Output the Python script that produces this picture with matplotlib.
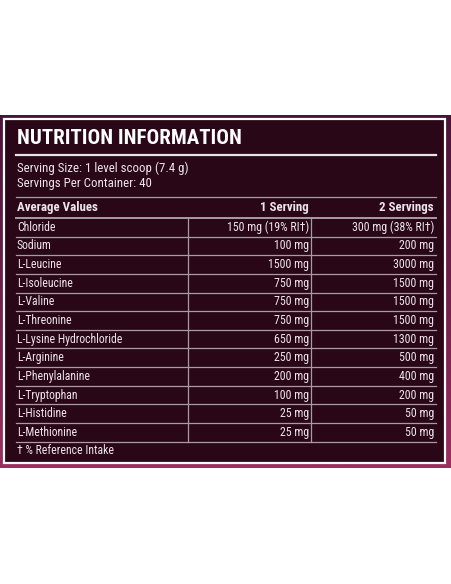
import matplotlib
matplotlib.use('Agg')
import matplotlib.pyplot as plt
import numpy as np
from matplotlib import font_manager
from matplotlib.colors import LinearSegmentedColormap
from matplotlib.patches import Rectangle

# table content
title = 'NUTRITION INFORMATION'
serving_lines = ['Serving Size: 1 level scoop (7.4 g)', 'Servings Per Container: 40']
headers = ['Average Values', '1 Serving', '2 Servings']
nutrients = ['Chloride', 'Sodium', 'L-Leucine', 'L-Isoleucine', 'L-Valine',
             'L-Threonine', 'L-Lysine Hydrochloride', 'L-Arginine',
             'L-Phenylalanine', 'L-Tryptophan', 'L-Histidine', 'L-Methionine']
one_serving = ['150 mg (19% RI\u2020)', '100 mg', '1500 mg', '750 mg', '750 mg',
               '750 mg', '650 mg', '250 mg', '200 mg', '100 mg', '25 mg', '25 mg']
two_servings = ['300 mg (38% RI\u2020)', '200 mg', '3000 mg', '1500 mg', '1500 mg',
                '1500 mg', '1300 mg', '500 mg', '400 mg', '200 mg', '50 mg', '50 mg']
footnote = '\u2020 % Reference Intake'

# pick a narrow font if we have one
names = set(f.name for f in font_manager.fontManager.ttflist)
fam = ['DejaVu Sans']
for cand in ['Roboto Condensed', 'Liberation Sans Narrow', 'Archivo Narrow',
             'PT Sans Narrow', 'Liberation Sans']:
    if cand in names:
        fam = [cand, 'DejaVu Sans']
        break
plt.rcParams['font.family'] = fam

txt = '#ece4ea'
grid = '#a89ca4'

fig = plt.figure(figsize=(4.52, 5.84), dpi=100)
ax = fig.add_axes([0, 0, 1, 1])
ax.set_xlim(0, 452)
ax.set_ylim(584, 0)
ax.axis('off')

# outer band with gradient
cmap = LinearSegmentedColormap.from_list('band', ['#4a1438', '#6e2049', '#9a2f60'])
ax.imshow(np.linspace(0, 1, 200).reshape(-1, 1), extent=(0, 452, 468, 115),
          cmap=cmap, aspect='auto', zorder=0)
ax.add_patch(Rectangle((4, 119), 441, 344, facecolor='#2a0717',
                       edgecolor='white', lw=1.6, zorder=1))

# title block
ax.text(17, 139, title, color='white', fontsize=15.0, fontweight='bold',
        va='center', ha='left', zorder=3)
ax.plot([16, 436], [154.5, 154.5], color='#e8e2e6', lw=1.6, zorder=2)
ax.text(17, 168, serving_lines[0], color=txt, fontsize=9.3, va='center', zorder=3)
ax.text(17, 183, serving_lines[1], color=txt, fontsize=9.3, va='center', zorder=3)
ax.plot([16, 436], [197, 197], color=grid, lw=0.9, zorder=2)

# header row
col_right = [309, 434]
ax.text(17, 207.5, headers[0], color=txt, fontsize=9.3, fontweight='bold', va='center')
ax.text(col_right[0], 207.5, headers[1], color=txt, fontsize=9.3, fontweight='bold',
        va='center', ha='right')
ax.text(col_right[1], 207.5, headers[2], color=txt, fontsize=9.3, fontweight='bold',
        va='center', ha='right')

top = 218
rh = 18.64
ax.plot([16, 436], [top, top], color=grid, lw=1.4, zorder=2)

for i, name in enumerate(nutrients):
    yc = top + rh * (i + 0.5)
    ax.text(17, yc, name, color=txt, fontsize=8.5, va='center', zorder=3)
    ax.text(col_right[0], yc, one_serving[i], color=txt, fontsize=8.6,
            va='center', ha='right', zorder=3)
    ax.text(col_right[1], yc, two_servings[i], color=txt, fontsize=8.6,
            va='center', ha='right', zorder=3)
    yl = top + rh * (i + 1)
    ax.plot([16, 436], [yl, yl], color=grid, lw=0.9, zorder=2)

bottom = top + rh * len(nutrients)
for xv in [188.5, 311.5]:
    ax.plot([xv, xv], [top, bottom], color=grid, lw=0.9, zorder=2)

ax.text(17, bottom + 9, footnote, color=txt, fontsize=8.5, va='center', zorder=3)

fig.savefig('out.png', dpi=100, facecolor='white')
